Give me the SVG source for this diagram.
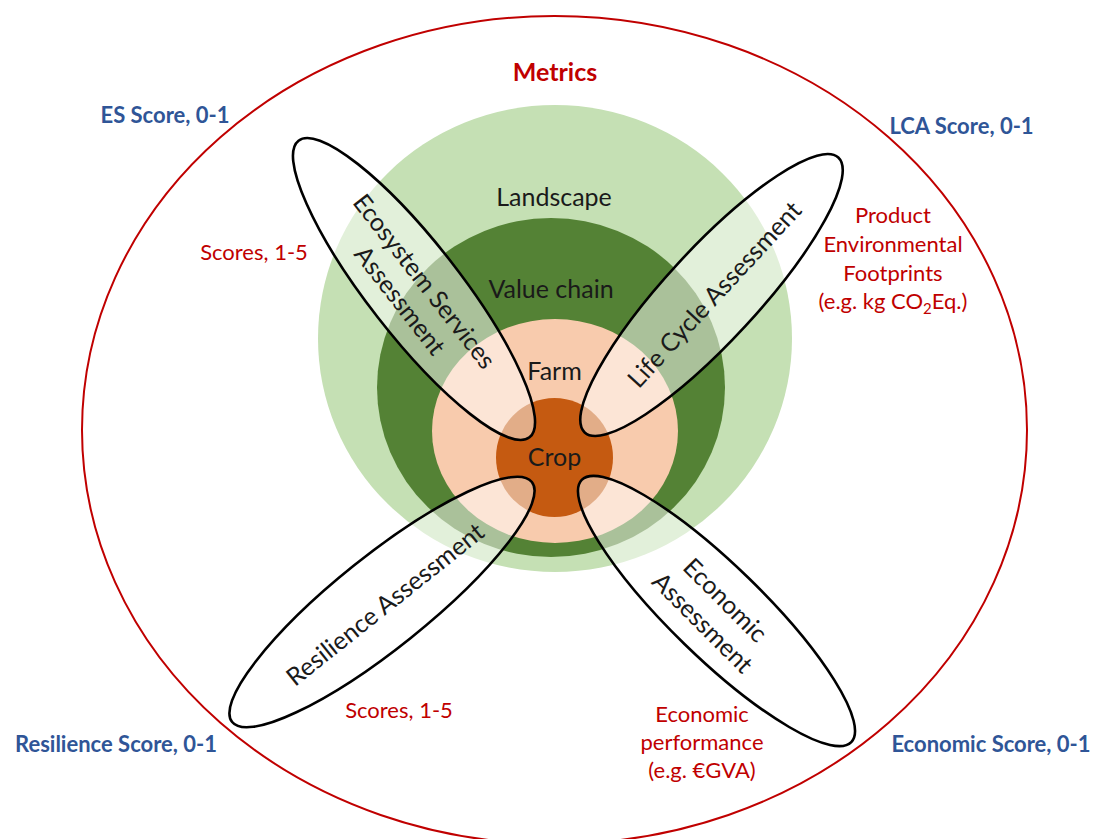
<svg xmlns="http://www.w3.org/2000/svg" width="1098" height="839" viewBox="0 0 1098 839">
  <style>
    .lbl { font-family: Lato, "Liberation Sans", sans-serif; font-size: 25px; fill: #1a1a1a; text-anchor: middle; }
    .red { font-family: Lato, "Liberation Sans", sans-serif; font-size: 22px; fill: #c00000; text-anchor: middle; }
    .blue { font-family: Lato, "Liberation Sans", sans-serif; font-size: 22px; font-weight: bold; fill: #2f5597; text-anchor: middle; }
    .title { font-family: Lato, "Liberation Sans", sans-serif; font-size: 25px; font-weight: bold; fill: #c00000; text-anchor: middle; }
    .petal { fill: #ffffff; fill-opacity: 0.5; stroke: #000000; stroke-width: 2.6; }
  </style>

  <rect width="1098" height="839" fill="#ffffff"/>

  <!-- outer metrics boundary -->
  <g id="metrics">
    <ellipse cx="554.5" cy="430" rx="472.5" ry="414" fill="none" stroke="#c00000" stroke-width="2"/>
    <text class="title" x="555" y="81">Metrics</text>
  </g>

  <!-- nested scale levels -->
  <g id="landscape">
    <ellipse cx="555" cy="338.5" rx="237" ry="233.5" fill="#c5e0b4"/>
    <text class="lbl" x="554" y="206">Landscape</text>
  </g>
  <g id="value-chain">
    <ellipse cx="551" cy="387.5" rx="174" ry="169.5" fill="#548235"/>
    <text class="lbl" x="551" y="298">Value chain</text>
  </g>
  <g id="farm">
    <ellipse cx="555" cy="431" rx="123" ry="112" fill="#f8cbad"/>
    <text class="lbl" x="554.5" y="380">Farm</text>
  </g>
  <g id="crop">
    <ellipse cx="554.5" cy="457.5" rx="58.5" ry="59.5" fill="#c55a11"/>
    <text class="lbl" x="554.5" y="466">Crop</text>
  </g>

  <!-- assessment petals -->
  <g id="es-assessment">
    <ellipse class="petal" cx="0" cy="0" rx="188" ry="46" transform="translate(414 289) rotate(52.1)"/>
    <g transform="translate(412 291) rotate(52)">
      <text class="lbl" x="0" y="-7">Ecosystem Services</text>
      <text class="lbl" x="0" y="24">Assessment</text>
    </g>
  </g>
  <g id="lca-assessment">
    <ellipse class="petal" cx="0" cy="0" rx="187" ry="46" transform="translate(711.5 295) rotate(-47.3)"/>
    <text class="lbl" x="0" y="8" transform="translate(715 295) rotate(-47.3)">Life Cycle Assessment</text>
  </g>
  <g id="resilience-assessment">
    <ellipse class="petal" cx="0" cy="0" rx="192" ry="46" transform="translate(382 602) rotate(-38.7)"/>
    <text class="lbl" x="0" y="8" transform="translate(385.5 605) rotate(-38.5)">Resilience Assessment</text>
  </g>
  <g id="economic-assessment">
    <ellipse class="petal" cx="0" cy="0" rx="188" ry="46" transform="translate(716.5 611) rotate(44.2)"/>
    <g transform="translate(713.5 612) rotate(45)">
      <text class="lbl" x="0" y="-8">Economic</text>
      <text class="lbl" x="0" y="24">Assessment</text>
    </g>
  </g>

  <!-- indicator labels -->
  <g id="es-indicators">
    <text class="red" x="254" y="260">Scores, 1-5</text>
    <text class="blue" x="165" y="123">ES Score, 0-1</text>
  </g>
  <g id="lca-indicators">
    <text class="red" x="893" y="223">Product</text>
    <text class="red" x="893" y="252">Environmental</text>
    <text class="red" x="893" y="281">Footprints</text>
    <text class="red" x="893" y="309">(e.g. kg CO<tspan font-size="15" dy="5">2</tspan><tspan dy="-5">Eq.)</tspan></text>
    <text class="blue" x="961.5" y="134">LCA Score, 0-1</text>
  </g>
  <g id="resilience-indicators">
    <text class="red" x="399" y="718">Scores, 1-5</text>
    <text class="blue" x="116" y="752">Resilience Score, 0-1</text>
  </g>
  <g id="economic-indicators">
    <text class="red" x="702" y="722">Economic</text>
    <text class="red" x="702" y="750">performance</text>
    <text class="red" x="702" y="778">(e.g. €GVA)</text>
    <text class="blue" x="991" y="752">Economic Score, 0-1</text>
  </g>
</svg>
